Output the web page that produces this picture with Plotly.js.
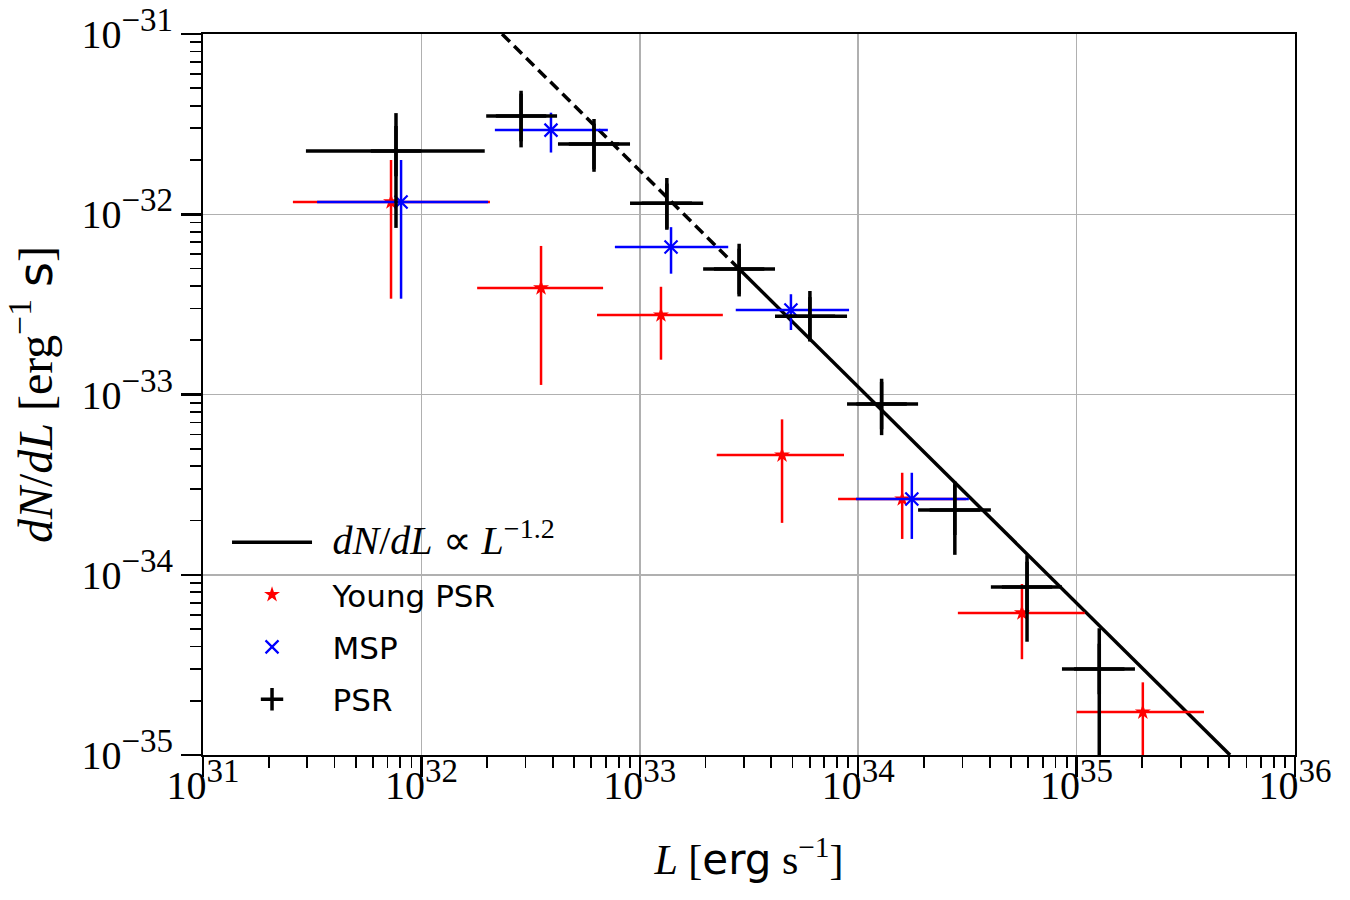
<!DOCTYPE html>
<html>
<head>
<meta charset="utf-8">
<script src="https://cdn.plot.ly/plotly-3.0.1.min.js"></script>
<style>
  html, body { margin: 0; padding: 0; background: #ffffff; }
  #chart { width: 1350px; height: 900px; }
</style>
</head>
<body>
<div id="chart"></div>
<script>
// Luminosity function of pulsars: binned dN/dL with luminosity bin edges and 1-sigma errors.

// All pulsars
const psrL    = [7.65e31, 2.86e32, 6.17e32, 1.33e33, 2.85e33, 6.01e33, 1.28e34, 2.77e34, 5.93e34, 1.27e35];
const psrLlo  = [2.96e31, 1.98e32, 4.22e32, 9.02e32, 1.95e33, 4.16e33, 8.89e33, 1.88e34, 4.05e34, 8.57e34];
const psrLhi  = [1.95e32, 4.18e32, 9.02e32, 1.95e33, 4.16e33, 8.89e33, 1.88e34, 4.05e34, 8.57e34, 1.85e35];
const psrY    = [2.24e-32, 3.51e-32, 2.45e-32, 1.15e-32, 4.97e-33, 2.72e-33, 8.85e-34, 2.29e-34, 8.55e-35, 3.0e-35];
const psrYerr = [1.40e-32, 1.16e-32, 0.73e-32, 3.3e-33, 1.47e-33, 0.75e-33, 2.9e-34, 1.0e-34, 4.3e-35, 2.05e-35];

// Young pulsars
const youngL    = [7.26e31, 3.53e32, 1.25e33, 4.48e33, 1.59e34, 5.62e34, 2.01e35];
const youngLlo  = [2.58e31, 1.80e32, 6.37e32, 2.25e33, 8.09e33, 2.86e34, 1.00e35];
const youngLhi  = [2.06e32, 6.79e32, 2.40e33, 8.61e33, 3.12e34, 1.09e35, 3.83e35];
const youngY    = [1.17e-32, 3.9e-33, 2.76e-33, 4.61e-34, 2.63e-34, 6.14e-35, 1.73e-35];
const youngYerr = [8.3e-33, 2.77e-33, 1.2e-33, 2.67e-34, 1.05e-34, 2.74e-35, 0.8e-35];

// Millisecond pulsars
const mspL    = [8.07e31, 3.92e32, 1.39e33, 4.92e33, 1.76e34];
const mspLlo  = [3.33e31, 2.17e32, 7.69e32, 2.75e33, 9.77e33];
const mspLhi  = [2.02e32, 7.14e32, 2.54e33, 9.08e33, 3.21e34];
const mspY    = [1.17e-32, 2.93e-32, 6.58e-33, 2.94e-33, 2.63e-34];
const mspYerr = [8.3e-33, 0.73e-32, 1.9e-33, 6.6e-34, 1.05e-34];

// Power law dN/dL ∝ L^-1.2: fitted (solid) and extrapolated (dashed) segments
const fitL  = [2.85e33, 5.04e35];
const fitY  = [4.97e-33, 1.0e-35];
const extL  = [2.34e32, 2.85e33];
const extY  = [1.0e-31, 4.97e-33];

// Decade tick positions and exponents
const xTickVals = [1e31, 1e32, 1e33, 1e34, 1e35, 1e36];
const xTickExp  = ['31', '32', '33', '34', '35', '36'];
const yTickVals = [1e-35, 1e-34, 1e-33, 1e-32, 1e-31];
const yTickExp  = ['−35', '−34', '−33', '−32', '−31'];

const SERIF = '"Liberation Serif", "Times New Roman", serif';
const SANS_CSS = "'DejaVu Sans', 'Noto Sans', sans-serif";
const sans = (t) => '<span style="font-family:' + SANS_CSS + '">' + t + '</span>';
const pow10 = (e) => '10<sup><span style="font-size:33px">' + e + '</span></sup>';
const pad = '\u00a0\u00a0';

function diff(a, b) { return a.map((v, i) => v - b[i]); }

function errTrace(name, L, Llo, Lhi, Y, Yerr, color, width, marker, group) {
  return {
    type: 'scatter',
    mode: 'markers',
    name: name,
    legendgroup: group,
    x: L,
    y: Y,
    marker: marker,
    error_x: {
      type: 'data', symmetric: false,
      array: diff(Lhi, L), arrayminus: diff(L, Llo),
      color: color, thickness: width, width: 0
    },
    error_y: {
      type: 'data', symmetric: true, array: Yerr,
      color: color, thickness: width, width: 0
    }
  };
}

const traces = [
  {
    type: 'scatter', mode: 'lines',
    name: pad + '<span style="font-size:40px"><i>dN</i>/<i>dL</i> ∝ <i>L</i><sup>−1.2</sup></span>',
    legendgroup: 'g0',
    x: fitL, y: fitY, line: { color: 'black', width: 3.5 }
  },
  {
    type: 'scatter', mode: 'lines', showlegend: false, legendgroup: 'g0',
    x: extL, y: extY, line: { color: 'black', width: 3.5, dash: '11px,6px' }
  },
  errTrace(pad + sans('Young PSR'),
    youngL, youngLlo, youngLhi, youngY, youngYerr, '#ff0000', 2.5,
    { symbol: 'star', size: 12, color: '#ff0000', line: { width: 0 } }, 'g1'),
  errTrace(pad + sans('MSP'),
    mspL, mspLlo, mspLhi, mspY, mspYerr, '#0000ff', 2.5,
    { symbol: 'x-thin-open', size: 13, color: '#0000ff', line: { width: 2.2, color: '#0000ff' } }, 'g2'),
  errTrace(pad + sans('PSR'),
    psrL, psrLlo, psrLhi, psrY, psrYerr, '#000000', 3.5,
    { symbol: 'cross-thin-open', size: 36, color: '#000000', line: { width: 3.5, color: '#000000' } }, 'g3')
];

const axisCommon = {
  type: 'log',
  tickmode: 'array',
  showgrid: true,
  gridcolor: '#b0b0b0',
  gridwidth: 1.5,
  zeroline: false,
  showline: true,
  linecolor: '#000000',
  linewidth: 2,
  mirror: true,
  ticks: 'outside',
  ticklen: 20,
  tickwidth: 2.5,
  tickcolor: '#000000',
  tickfont: { family: SERIF, size: 40, color: '#000000' },
  minor: { ticks: 'outside', ticklen: 11, tickwidth: 1.8, tickcolor: '#000000', showgrid: false, dtick: 'D1' }
};

const layout = {
  width: 1350,
  height: 900,
  margin: { l: 203, r: 55, t: 34, b: 145 },
  paper_bgcolor: '#ffffff',
  plot_bgcolor: '#ffffff',
  showlegend: true,
  legend: {
    x: 0.022, y: 0.332, xanchor: 'left', yanchor: 'top',
    bgcolor: 'rgba(0,0,0,0)', borderwidth: 0,
    traceorder: 'grouped', tracegroupgap: 9,
    itemwidth: 80,
    font: { family: SERIF, size: 31, color: '#000000' }
  },
  xaxis: Object.assign({}, axisCommon, {
    range: [31, 36],
    tickvals: xTickVals,
    ticktext: xTickExp.map(pow10),
    ticklabelstandoff: -26,
    title: {
      text: '<i>L</i> [' + sans('erg') + ' s<sup>−1</sup>]',
      font: { family: SERIF, size: 42, color: '#000000' },
      standoff: 38
    }
  }),
  yaxis: Object.assign({}, axisCommon, {
    range: [-35, -31],
    tickvals: yTickVals,
    ticktext: yTickExp.map(pow10),
    title: {
      text: '<i>dN</i>/<i>dL</i> [erg<sup>−1</sup> ' + sans('s') + ']',
      font: { family: SERIF, size: 48, color: '#000000' },
      standoff: 14
    }
  })
};

Plotly.newPlot('chart', traces, layout, { displayModeBar: false, staticPlot: true });
</script>
</body>
</html>
